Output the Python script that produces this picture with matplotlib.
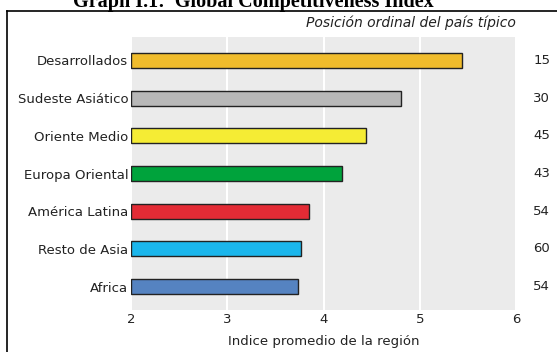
import matplotlib.pyplot as plt
from matplotlib.lines import Line2D

regions = ['Desarrollados', 'Sudeste Asiático', 'Oriente Medio', 'Europa Oriental',
           'América Latina', 'Resto de Asia', 'Africa']
index_values = [5.44, 4.81, 4.44, 4.19, 3.85, 3.77, 3.73]
rank_values = [15, 30, 45, 43, 54, 60, 54]
bar_colors = ['#F0BC2C', '#B8B8B8', '#F5EC34', '#00A33C', '#E32B35', '#1BB6EC', '#5583C1']

W, H = 557, 352
fig = plt.figure(figsize=(W / 100, H / 100), dpi=100)
ax = fig.add_axes([131 / W, 1 - 310 / H, (516 - 131) / W, (310 - 37) / H])
ax.set_facecolor('#EBEBEB')

ypos = list(range(len(regions)))[::-1]
ax.barh(ypos, [v - 2 for v in index_values], left=2, height=0.4,
        color=bar_colors, edgecolor='#222222', linewidth=1, zorder=3)

ax.set_xlim(2, 6)
ax.set_ylim(-0.62, 6.62)
ax.set_xticks([2, 3, 4, 5, 6])
ax.set_xticklabels(['2', '3', '4', '5', '6'])
ax.set_yticks(ypos)
ax.set_yticklabels(regions, fontsize=10)
ax.tick_params(axis='both', length=0, labelsize=9.5, colors='#222222')
ax.tick_params(axis='y', pad=2)
ax.tick_params(axis='x', pad=2)
for s in ax.spines.values():
    s.set_visible(False)
ax.grid(axis='x', color='white', linewidth=1.5, zorder=1)
ax.set_axisbelow(True)

# ordinal rank of the typical country, on the right
for y, r in zip(ypos, rank_values):
    ax.text(1.045, (y + 0.62) / 7.24, str(r), transform=ax.transAxes,
            ha='left', va='center', fontsize=9.5, color='#222222')

ax.text(1.0, 1.025, 'Posición ordinal del país típico', transform=ax.transAxes,
        ha='right', va='bottom', fontsize=10, style='italic', color='#222222')
ax.set_xlabel('Indice promedio de la región', fontsize=9.5, color='#222222', labelpad=7)

# frame and clipped heading
fig.add_artist(Line2D([7 / W, 7 / W], [0, 1 - 11 / H], color='black', lw=1.2))
fig.add_artist(Line2D([7 / W, 1], [1 - 11 / H, 1 - 11 / H], color='black', lw=1.2))
fig.text(253 / W, 1 - 7 / H, 'Graph I.1:  Global Competitiveness Index', ha='center', va='baseline',
         fontsize=14.5, fontweight='bold', family='Liberation Serif')

fig.savefig('out.png', dpi=100)
